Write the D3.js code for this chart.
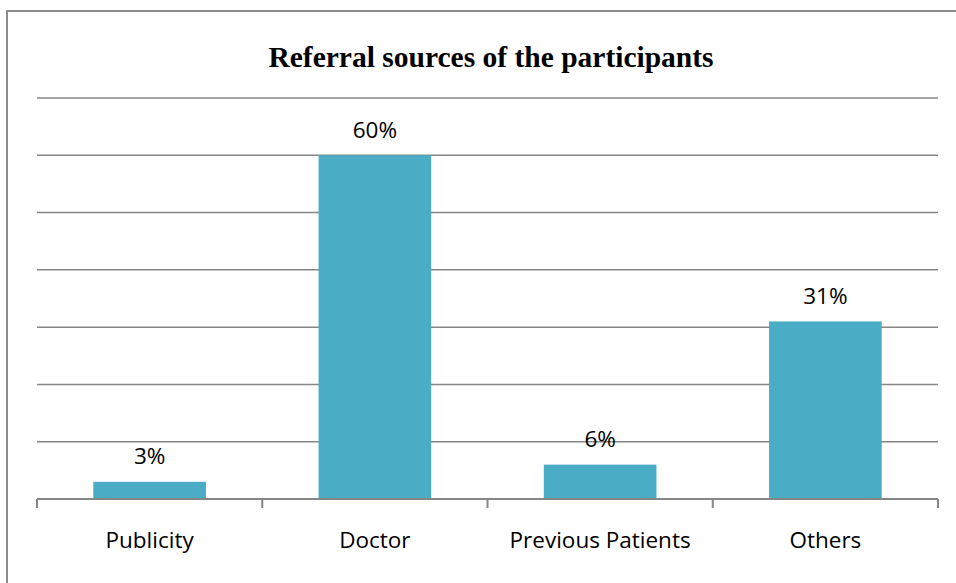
<!DOCTYPE html>
<html><head><meta charset="utf-8">
<script src="https://cdn.jsdelivr.net/npm/d3@7"></script>
<style>html,body{margin:0;padding:0;background:#fff;}svg{display:block;}</style>
</head><body>
<svg id="chart" width="956" height="583"></svg>
<script>
const categories = ["Publicity", "Doctor", "Previous Patients", "Others"];
const values = [3, 60, 6, 31];
const yTicks = [0, 10, 20, 30, 40, 50, 60, 70];
const title = "Referral sources of the participants";

const svg = d3.select("#chart");
const W = 956, H = 583;
const m = {left: 37, right: 18, top: 98, bottom: 84};
const x0 = m.left, x1 = W - m.right, y0 = H - m.bottom, y1 = m.top;

svg.append("rect").attr("x", 7).attr("y", 11).attr("width", 980).attr("height", 590)
  .attr("fill", "#fff").attr("stroke", "#8c8c8c").attr("stroke-width", 2);

const x = d3.scaleBand().domain(categories).range([x0, x1]).paddingInner(0.5).paddingOuter(0.25);
const y = d3.scaleLinear().domain([0, 70]).range([y0, y1]);

// gridlines
svg.append("g").selectAll("line").data(yTicks.filter(d => d > 0)).join("line")
  .attr("x1", x0).attr("x2", x1).attr("y1", d => y(d)).attr("y2", d => y(d))
  .attr("stroke", "#868686").attr("stroke-width", 1.5);

// bars
svg.append("g").selectAll("rect").data(values).join("rect")
  .attr("x", (d, i) => x(categories[i])).attr("width", x.bandwidth())
  .attr("y", d => y(d)).attr("height", d => y(0) - y(d))
  .attr("fill", "#4BACC6");

// x axis
const xb = d3.scalePoint().domain(d3.range(categories.length + 1)).range([x0, x1]);
const ax = svg.append("g");
ax.append("line").attr("x1", x0).attr("x2", x1).attr("y1", y0).attr("y2", y0)
  .attr("stroke", "#868686").attr("stroke-width", 2);
ax.selectAll("line.tick").data(d3.range(categories.length + 1)).join("line").attr("class", "tick")
  .attr("x1", d => xb(d)).attr("x2", d => xb(d)).attr("y1", y0).attr("y2", y0 + 9)
  .attr("stroke", "#868686").attr("stroke-width", 2);
ax.selectAll("text").data(categories).join("text")
  .attr("x", d => x(d) + x.bandwidth() / 2).attr("y", y0 + 49)
  .attr("text-anchor", "middle").attr("font-family", "'Open Sans', sans-serif")
  .attr("font-size", 22.5).attr("fill", "#000").text(d => d);

// data labels
svg.append("g").selectAll("text").data(values).join("text")
  .attr("x", (d, i) => x(categories[i]) + x.bandwidth() / 2).attr("y", d => y(d) - 17.5)
  .attr("text-anchor", "middle").attr("font-family", "'Open Sans', sans-serif")
  .attr("font-size", 22.5).attr("fill", "#000").text(d => d + "%");

svg.append("text").attr("x", 491).attr("y", 67)
  .attr("text-anchor", "middle").attr("font-family", "'Liberation Serif', 'Times New Roman', serif")
  .attr("font-weight", "bold").attr("font-size", 29.5).attr("fill", "#000").text(title);
</script>
</body></html>
